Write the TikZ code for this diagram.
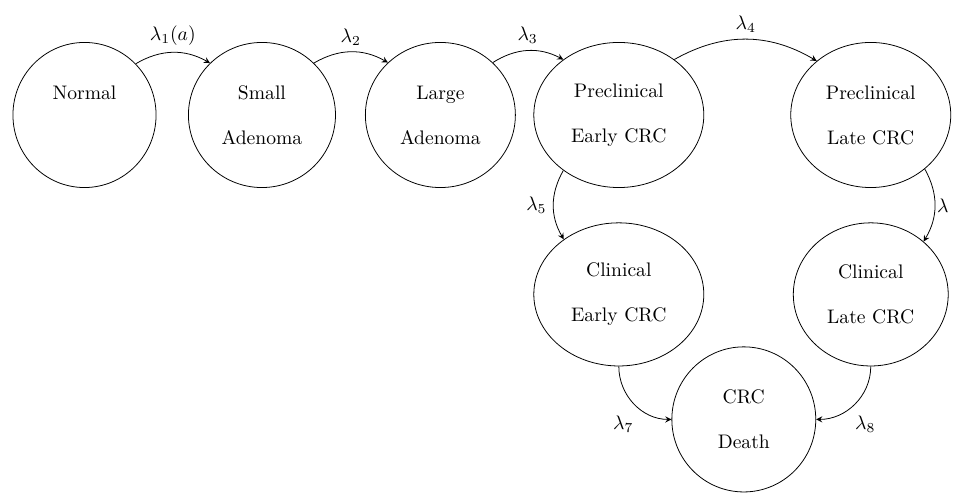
\documentclass[tikz,border=0pt]{standalone}
\usepackage{amsmath,amssymb}
\usepackage{tikz}
\usetikzlibrary{positioning,arrows,shapes.geometric}

\begin{document}
\begin{tikzpicture}[on grid, >=stealth, node distance=91pt,
  stage/.style={ellipse, draw, align=center, minimum height=74pt}]

  \useasboundingbox (-43.1pt,-192.3pt) rectangle (445.5pt,58.65pt);

  \node[stage, minimum width=73pt] (normal) at (0,0) {Normal\\[11pt]\phantom{A}};
  \node[stage, minimum width=75pt] (small) [right=90.5pt of normal] {Small\\[11pt]Adenoma};
  \node[stage, minimum width=76.5pt] (large) [right=of small] {Large\\[11pt]Adenoma};
  \node[stage, minimum width=86.7pt] (prearly) [right=of large] {Preclinical\\[11pt]Early CRC};
  \node[stage, minimum width=81.6pt] (prelate) [right=128.5pt of prearly] {Preclinical\\[11pt]Late CRC};

  \node[stage, minimum width=86.7pt, minimum height=73pt] (clearly) [below=91.5pt of prearly] {Clinical\\[11pt]Early CRC};
  \node[stage, minimum width=79pt, minimum height=73pt] (cllate) [below=91.5pt of prelate] {Clinical\\[11pt]Late CRC};
  \node[stage, minimum width=73.4pt] (death) [below right=63.75pt and 63.75pt of clearly] {CRC\\[11pt]Death};

  \path[->] (normal.45) edge[bend left] node[above] {$\lambda_1(a)$} (small.135);
  \path[->] (small.45) edge[bend left] node[above] {$\lambda_2$} (large.135);
  \path[->] (large.45) edge[bend left] node[above] {$\lambda_3$} (prearly.135);
  \path[->] (prearly.45) edge[bend left] node[above] {$\lambda_4$} (prelate.135);

  \path[->] (prearly.225) edge[bend right] node[left] {$\lambda_5$} (clearly.135);
  \path[->] (prelate.315) edge[bend left] node[right, inner sep=1pt] {$\lambda$} (cllate.45);

  \path[->] (clearly.south) edge[out=-90, in=180] node[below left, pos=0.6] {$\lambda_7$} (death.west);
  \path[->] (cllate.south) edge[out=-90, in=0] node[below right, pos=0.6] {$\lambda_8$} (death.east);

\end{tikzpicture}
\end{document}
